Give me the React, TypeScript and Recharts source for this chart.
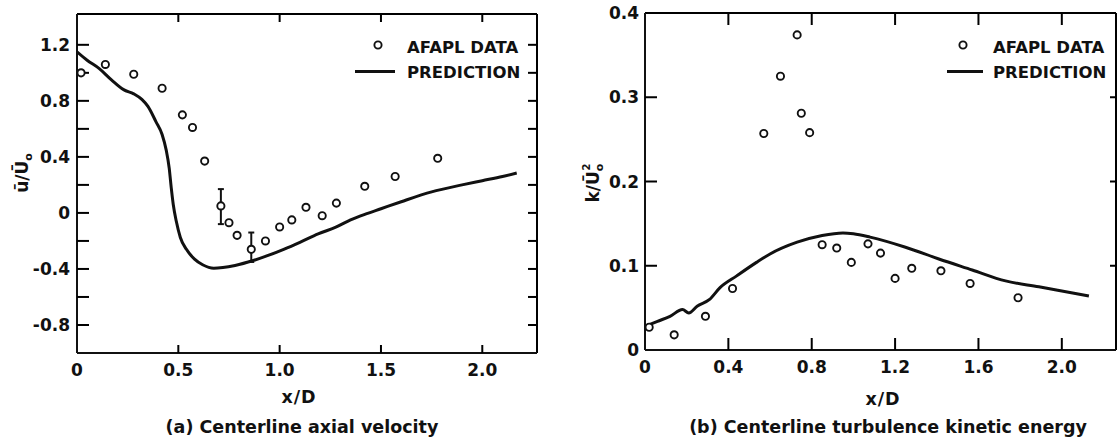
import React from "react";
import { ComposedChart, Line, Scatter, XAxis, YAxis, ErrorBar, ReferenceLine } from "recharts";

const FONT = "'DejaVu Sans', Verdana, sans-serif";
const INK = "#111";

// (a) centerline axial velocity — measured points
const velDataX = [0.02, 0.14, 0.28, 0.42, 0.52, 0.57, 0.63, 0.75, 0.79, 0.93, 1.0, 1.06, 1.13, 1.21, 1.28, 1.42, 1.57, 1.78];
const velDataY = [1.0, 1.06, 0.99, 0.89, 0.7, 0.61, 0.37, -0.07, -0.16, -0.2, -0.1, -0.05, 0.04, -0.02, 0.07, 0.19, 0.26, 0.39];
// points carrying error bars (lower / upper extent)
const velErrX = [0.71, 0.86];
const velErrY = [0.05, -0.26];
const velErrLow = [0.13, 0.09];
const velErrHigh = [0.12, 0.12];
// (a) prediction curve
const velPredX = [0, 0.05, 0.11, 0.17, 0.23, 0.28, 0.32, 0.35, 0.39, 0.42, 0.44, 0.455, 0.465, 0.475, 0.49, 0.51, 0.54, 0.58, 0.62, 0.675, 0.72, 0.78, 0.87, 0.95, 1.02, 1.1, 1.19, 1.28, 1.35, 1.42, 1.5, 1.6, 1.75, 1.9, 2.0, 2.1, 2.17];
const velPredY = [1.15, 1.09, 1.03, 0.95, 0.88, 0.85, 0.81, 0.76, 0.65, 0.56, 0.45, 0.32, 0.18, 0.06, -0.06, -0.175, -0.26, -0.33, -0.37, -0.395, -0.39, -0.375, -0.34, -0.3, -0.26, -0.21, -0.15, -0.1, -0.05, -0.01, 0.03, 0.08, 0.15, 0.2, 0.23, 0.26, 0.285];

// (b) centerline turbulence kinetic energy
const tkeDataX = [0.02, 0.14, 0.29, 0.42, 0.57, 0.65, 0.73, 0.75, 0.79, 0.85, 0.92, 0.99, 1.07, 1.13, 1.2, 1.28, 1.42, 1.56, 1.79];
const tkeDataY = [0.027, 0.018, 0.04, 0.073, 0.257, 0.325, 0.374, 0.281, 0.258, 0.125, 0.121, 0.104, 0.126, 0.115, 0.085, 0.097, 0.094, 0.079, 0.062];
const tkePredX = [0, 0.06, 0.12, 0.18, 0.21, 0.25, 0.31, 0.36, 0.44, 0.535, 0.6, 0.73, 0.85, 0.95, 1.0, 1.08, 1.25, 1.41, 1.57, 1.73, 1.89, 2.0, 2.13];
const tkePredY = [0.028, 0.034, 0.04, 0.048, 0.044, 0.052, 0.06, 0.074, 0.088, 0.104, 0.114, 0.128, 0.136, 0.139, 0.138, 0.134, 0.122, 0.108, 0.095, 0.082, 0.075, 0.07, 0.064];

// axis ranges and ticks
const velXDomain = [0, 2.27];
const velYDomain = [-1.0, 1.42];
const velXTicks = [0, 0.5, 1, 1.5, 2];
const velXLabels = ["0", "0.5", "1.0", "1.5", "2.0"];
const velYTicks = [-0.8, -0.6, -0.4, -0.2, 0, 0.2, 0.4, 0.6, 0.8, 1.0, 1.2];
const velYLabels = ["-0.8", "", "-0.4", "", "0", "", "0.4", "", "0.8", "", "1.2"];
const tkeXDomain = [0, 2.26];
const tkeYDomain = [0, 0.4];
const tkeXTicks = [0, 0.4, 0.8, 1.2, 1.6, 2.0];
const tkeXLabels = ["0", "0.4", "0.8", "1.2", "1.6", "2.0"];
const tkeYTicks = [0, 0.1, 0.2, 0.3, 0.4];
const tkeYLabels = ["0", "0.1", "0.2", "0.3", "0.4"];

const zip = (xs: number[], ys: number[]) => xs.map((x, i) => ({ x, y: ys[i] }));

const velData = zip(velDataX, velDataY);
const velErr = velErrX.map((x, i) => ({ x, y: velErrY[i], err: [velErrLow[i], velErrHigh[i]] }));
const velPred = zip(velPredX, velPredY);
const tkeData = zip(tkeDataX, tkeDataY);
const tkePred = zip(tkePredX, tkePredY);

const labelFor = (ticks: number[], labels: string[]) => (v: number) => {
  const i = ticks.findIndex((t) => Math.abs(t - v) < 1e-6);
  return i >= 0 ? labels[i] : "";
};

const textStyle = { fontFamily: FONT, fontWeight: 700, fontSize: 17, fill: INK } as const;

const makeLabel = (side: string, fmt: (v: number) => string) => (p: any) => {
  const label = fmt(p.payload.value);
  if (!label) return <g />;
  return side === "left" ? (
    <text x={p.x} y={p.y} textAnchor="end" dominantBaseline="central" {...textStyle}>
      {label}
    </text>
  ) : (
    <text x={p.x} y={p.y} dy="0.72em" textAnchor="middle" {...textStyle}>
      {label}
    </text>
  );
};

// inward tick marks, placed through the chart's own scales
const tickShape = (dx: number, dy: number) => (p: any) => (
  <path d={`M${p.cx},${p.cy}l${dx},${dy}`} stroke="black" strokeWidth={2} fill="none" />
);

const Ring = (p: any) => (
  <circle cx={p.cx} cy={p.cy} r={3.6} fill="#fff" stroke={INK} strokeWidth={1.9} />
);

const YTitle = ({ px, py, squared }: any) => (
  <text transform={`translate(${px},${py}) rotate(-90)`} textAnchor="middle" {...textStyle} fontSize={17}>
    {squared ? "k/U\u0304" : "u\u0304/U\u0304"}
    <tspan fontSize={11} dy={4}>o</tspan>
    {squared && (
      <tspan fontSize={10} dx={-7} dy={-13}>2</tspan>
    )}
  </text>
);

const LegendBox = ({ left, ringAt, lineLen, textLeft }: any) => (
  <svg width={220} height={90} style={{ position: "absolute", left, top: 0, overflow: "visible" }}>
    <circle cx={ringAt} cy={45} r={3.6} fill="#fff" stroke={INK} strokeWidth={1.9} />
    <line x1={0} x2={lineLen} y1={71.5} y2={71.5} stroke={INK} strokeWidth={3} />
    <text x={textLeft} y={47} dominantBaseline="central" {...textStyle} fontSize={16.5}>AFAPL DATA</text>
    <text x={textLeft} y={72} dominantBaseline="central" {...textStyle} fontSize={16.5}>PREDICTION</text>
  </svg>
);

const Caption = ({ cx, cy, children, size = 17.5, spacing = 0 }: any) => (
  <div
    style={{
      position: "absolute",
      left: cx - 300,
      top: cy - 12,
      width: 600,
      height: 24,
      lineHeight: "24px",
      textAlign: "center",
      fontFamily: FONT,
      fontWeight: 700,
      fontSize: size,
      letterSpacing: spacing,
      color: INK,
      whiteSpace: "nowrap",
    }}
  >
    {children}
  </div>
);

const axisStroke = { stroke: INK, strokeWidth: 2 };

const Panel = (c: any) => {
  const [x0, x1] = c.xDomain;
  const [y0, y1] = c.yDomain;
  const leftMarks = c.leftTicks.map((y: number) => ({ x: x0, y }));
  const bottomMarks = c.tickX.map((x: number) => ({ x, y: y0 }));
  const topMarks = c.tickX.map((x: number) => ({ x, y: y1 }));
  const rightMarks = c.rightTicks.map((y: number) => ({ x: x1, y }));
  return (
    <ComposedChart width={c.width} height={443} margin={c.margin}>
      <XAxis
        dataKey="x"
        type="number"
        domain={c.xDomain}
        allowDataOverflow
        ticks={c.xTicks}
        interval={0}
        height={c.xHeight}
        tickSize={0}
        tickMargin={11}
        axisLine={axisStroke}
        tickLine={false}
        tick={makeLabel("bottom", labelFor(c.xTicks, c.xLabels))}
      />
      <YAxis
        type="number"
        domain={c.yDomain}
        allowDataOverflow
        ticks={c.yTicks}
        interval={0}
        width={c.yWidth}
        tickSize={0}
        tickMargin={c.yGap}
        axisLine={axisStroke}
        tickLine={false}
        tick={makeLabel("left", labelFor(c.yTicks, c.yLabels))}
        label={c.title}
      />
      <ReferenceLine y={y1} stroke="black" strokeWidth={2} />
      <ReferenceLine x={x1} stroke="black" strokeWidth={2} />
      <Scatter data={leftMarks} dataKey="y" shape={tickShape(c.len.left, 0)} isAnimationActive={false} />
      <Scatter data={bottomMarks} dataKey="y" shape={tickShape(0, -c.len.bottom)} isAnimationActive={false} />
      <Scatter data={topMarks} dataKey="y" shape={tickShape(0, c.len.top)} isAnimationActive={false} />
      <Scatter data={rightMarks} dataKey="y" shape={tickShape(-c.len.right, 0)} isAnimationActive={false} />
      <Line
        data={c.pred}
        dataKey="y"
        type="monotone"
        stroke={INK}
        strokeWidth={3}
        dot={false}
        isAnimationActive={false}
      />
      <Scatter data={c.data} dataKey="y" shape={Ring} isAnimationActive={false} />
      {c.err && (
        <Scatter data={c.err} dataKey="y" shape={Ring} isAnimationActive={false}>
          <ErrorBar dataKey="err" direction="y" width={3} stroke={INK} strokeWidth={2} />
        </Scatter>
      )}
    </ComposedChart>
  );
};

export default function App() {
  return (
    <div style={{ position: "absolute", left: 0, top: 0, width: 1118, height: 443, background: "#fff" }}>
      <div style={{ position: "absolute", left: 0, top: 0 }}>
        <Panel
          width={560}
          margin={{ top: 14, right: 23, bottom: 0, left: 0 }}
          yWidth={77}
          xHeight={90}
          xDomain={velXDomain}
          yDomain={velYDomain}
          xTicks={velXTicks}
          xLabels={velXLabels}
          yTicks={velYTicks}
          yLabels={velYLabels}
          tickX={velXTicks.slice(1)}
          leftTicks={velYTicks}
          rightTicks={velYTicks}
          len={{ left: 12, bottom: 8, top: 8, right: 9 }}
          yGap={7}
          title={<YTitle px={28} py={173} />}
          pred={velPred}
          data={velData}
          err={velErr}
        />
        <LegendBox left={355} ringAt={23} lineLen={40} textLeft={52} />
      </div>

      <div style={{ position: "absolute", left: 560, top: 0 }}>
        <Panel
          width={558}
          margin={{ top: 13, right: 2, bottom: 0, left: 0 }}
          yWidth={85}
          xHeight={93}
          xDomain={tkeXDomain}
          yDomain={tkeYDomain}
          xTicks={tkeXTicks}
          xLabels={tkeXLabels}
          yTicks={tkeYTicks}
          yLabels={tkeYLabels}
          tickX={tkeXTicks.slice(1)}
          leftTicks={tkeYTicks.slice(1, 4)}
          rightTicks={tkeYTicks.slice(1, 4)}
          len={{ left: 12, bottom: 12, top: 12, right: 6 }}
          yGap={6}
          title={<YTitle px={39} py={183} squared />}
          pred={tkePred}
          data={tkeData}
        />
        <LegendBox left={387} ringAt={16} lineLen={36} textLeft={46} />
      </div>

      <Caption cx={299} cy={397} spacing={1}>x/D</Caption>
      <Caption cx={302} cy={427}>(a) Centerline axial velocity</Caption>
      <Caption cx={883} cy={399} spacing={1}>x/D</Caption>
      <Caption cx={888} cy={427}>(b) Centerline turbulence kinetic energy</Caption>
    </div>
  );
}
